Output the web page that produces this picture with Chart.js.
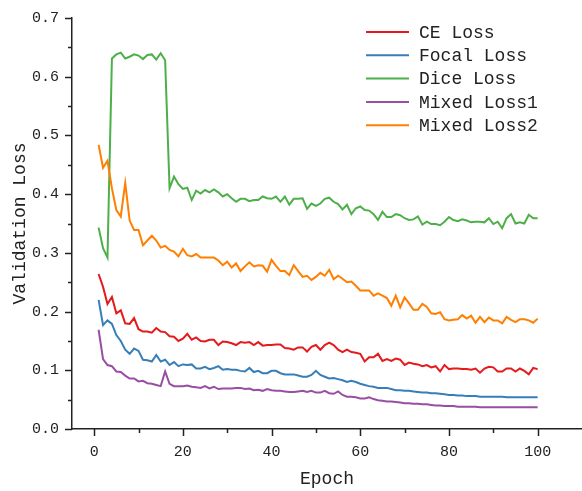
<!DOCTYPE html>
<html>
<head>
<meta charset="utf-8">
<script src="https://cdn.jsdelivr.net/npm/chart.js@4/dist/chart.umd.min.js"></script>
<style>
  html, body { margin: 0; padding: 0; background: #fff; }
  #wrap { width: 582px; height: 491px; }
</style>
</head>
<body>
<div id="wrap"><canvas id="myChart" width="582" height="491"></canvas></div>
<script>
const epochs = Array.from({ length: 100 }, (_, i) => i + 1)

const seriesNames = ['CE Loss', 'Focal Loss', 'Dice Loss', 'Mixed Loss1', 'Mixed Loss2']
const seriesColors = ['#e41a1c', '#377eb8', '#4daf4a', '#984ea3', '#ff7f00']

const ceLoss = [
  0.264, 0.242, 0.213, 0.225, 0.197, 0.202, 0.180, 0.179, 0.189, 0.170,
  0.166, 0.166, 0.164, 0.172, 0.166, 0.165, 0.158, 0.157, 0.150, 0.154,
  0.162, 0.152, 0.156, 0.150, 0.149, 0.152, 0.152, 0.143, 0.149, 0.148,
  0.146, 0.143, 0.148, 0.147, 0.148, 0.143, 0.148, 0.142, 0.143, 0.143,
  0.144, 0.144, 0.138, 0.137, 0.135, 0.139, 0.139, 0.132, 0.140, 0.143,
  0.135, 0.143, 0.147, 0.143, 0.135, 0.131, 0.135, 0.131, 0.130, 0.128,
  0.115, 0.122, 0.122, 0.128, 0.116, 0.119, 0.116, 0.120, 0.118, 0.109,
  0.113, 0.111, 0.110, 0.107, 0.109, 0.105, 0.107, 0.098, 0.109, 0.102,
  0.103, 0.103, 0.102, 0.102, 0.101, 0.103, 0.096, 0.103, 0.106, 0.105,
  0.098, 0.098, 0.103, 0.103, 0.098, 0.103, 0.099, 0.093, 0.104, 0.102
]
const focalLoss = [
  0.220, 0.177, 0.185, 0.179, 0.160, 0.150, 0.135, 0.128, 0.137, 0.133,
  0.118, 0.117, 0.115, 0.126, 0.115, 0.118, 0.109, 0.114, 0.107, 0.110,
  0.109, 0.110, 0.103, 0.103, 0.106, 0.102, 0.104, 0.107, 0.101, 0.102,
  0.101, 0.101, 0.099, 0.098, 0.104, 0.097, 0.099, 0.095, 0.095, 0.099,
  0.099, 0.095, 0.093, 0.093, 0.093, 0.091, 0.089, 0.089, 0.092, 0.099,
  0.092, 0.089, 0.086, 0.087, 0.085, 0.083, 0.080, 0.082, 0.080, 0.077,
  0.075, 0.073, 0.072, 0.070, 0.070, 0.070, 0.068, 0.066, 0.066, 0.065,
  0.065, 0.064, 0.063, 0.062, 0.062, 0.061, 0.061, 0.060, 0.059, 0.058,
  0.058, 0.057, 0.057, 0.056, 0.056, 0.056, 0.055, 0.055, 0.055, 0.055,
  0.055, 0.055, 0.054, 0.054, 0.054, 0.054, 0.054, 0.054, 0.054, 0.054
]
const diceLoss = [
  0.343, 0.308, 0.292, 0.631, 0.638, 0.641, 0.631, 0.634, 0.638, 0.636,
  0.630, 0.637, 0.638, 0.629, 0.640, 0.628, 0.410, 0.430, 0.417, 0.409,
  0.411, 0.390, 0.406, 0.401, 0.407, 0.403, 0.408, 0.403, 0.396, 0.400,
  0.393, 0.387, 0.392, 0.392, 0.388, 0.390, 0.390, 0.396, 0.393, 0.392,
  0.396, 0.387, 0.396, 0.382, 0.392, 0.392, 0.393, 0.375, 0.384, 0.380,
  0.384, 0.392, 0.394, 0.387, 0.383, 0.374, 0.382, 0.366, 0.376, 0.379,
  0.373, 0.372, 0.366, 0.356, 0.370, 0.361, 0.361, 0.366, 0.364, 0.359,
  0.356, 0.357, 0.362, 0.348, 0.353, 0.349, 0.349, 0.347, 0.353, 0.361,
  0.356, 0.354, 0.357, 0.355, 0.352, 0.353, 0.353, 0.352, 0.359, 0.349,
  0.353, 0.342, 0.359, 0.366, 0.350, 0.352, 0.350, 0.365, 0.359, 0.359
]
const mixedLoss1 = [
  0.169, 0.119, 0.109, 0.107, 0.098, 0.097, 0.091, 0.086, 0.086, 0.081,
  0.082, 0.078, 0.077, 0.075, 0.073, 0.098, 0.077, 0.073, 0.073, 0.073,
  0.074, 0.072, 0.071, 0.070, 0.073, 0.069, 0.072, 0.068, 0.069, 0.069,
  0.069, 0.070, 0.070, 0.068, 0.069, 0.066, 0.067, 0.065, 0.068, 0.066,
  0.065, 0.065, 0.064, 0.063, 0.063, 0.064, 0.065, 0.063, 0.065, 0.062,
  0.062, 0.065, 0.061, 0.060, 0.064, 0.058, 0.055, 0.055, 0.054, 0.052,
  0.052, 0.054, 0.051, 0.049, 0.048, 0.047, 0.047, 0.046, 0.045, 0.044,
  0.044, 0.043, 0.043, 0.042, 0.042, 0.041, 0.040, 0.040, 0.039, 0.039,
  0.039, 0.038, 0.038, 0.038, 0.038, 0.038, 0.037, 0.037, 0.037, 0.037,
  0.037, 0.037, 0.037, 0.037, 0.037, 0.037, 0.037, 0.037, 0.037, 0.037
]
const mixedLoss2 = [
  0.484, 0.445, 0.457, 0.410, 0.373, 0.362, 0.419, 0.355, 0.339, 0.339,
  0.313, 0.321, 0.329, 0.321, 0.309, 0.312, 0.305, 0.302, 0.294, 0.307,
  0.296, 0.294, 0.298, 0.292, 0.292, 0.292, 0.292, 0.287, 0.279, 0.285,
  0.275, 0.282, 0.269, 0.277, 0.284, 0.277, 0.279, 0.278, 0.268, 0.288,
  0.278, 0.269, 0.269, 0.262, 0.279, 0.269, 0.259, 0.261, 0.254, 0.259,
  0.266, 0.261, 0.271, 0.255, 0.261, 0.256, 0.250, 0.251, 0.244, 0.236,
  0.236, 0.236, 0.227, 0.231, 0.227, 0.223, 0.210, 0.227, 0.207, 0.224,
  0.214, 0.203, 0.203, 0.213, 0.208, 0.197, 0.196, 0.199, 0.187, 0.185,
  0.186, 0.187, 0.194, 0.188, 0.193, 0.181, 0.191, 0.182, 0.190, 0.185,
  0.185, 0.180, 0.191, 0.186, 0.182, 0.187, 0.187, 0.185, 0.181, 0.188
]
const seriesValues = [ceLoss, focalLoss, diceLoss, mixedLoss1, mixedLoss2]

const xMajorTicks = [0, 20, 40, 60, 80, 100]
const xMinorTicks = [10, 30, 50, 70, 90]
const yMajorTicks = [0, 0.1, 0.2, 0.3, 0.4, 0.5, 0.6, 0.7]
const yMinorTicks = [0.05, 0.15, 0.25, 0.35, 0.45, 0.55, 0.65]

const FONT = "'Liberation Mono', 'DejaVu Sans Mono', monospace"
const TEXT_COLOR = '#222'
const AXIS_COLOR = '#222'

// outward major/minor tick marks, matplotlib style
const tickMarks = {
  id: 'tickMarks',
  afterDraw(chart) {
    const { ctx, scales: { x, y } } = chart
    ctx.save()
    ctx.strokeStyle = AXIS_COLOR
    ctx.lineWidth = 1.5
    ctx.beginPath()
    const xTick = (v, len) => {
      const px = Math.round(x.getPixelForValue(v)) + 0.5
      ctx.moveTo(px, x.top)
      ctx.lineTo(px, x.top + len)
    }
    const yTick = (v, len) => {
      const py = Math.round(y.getPixelForValue(v)) + 0.5
      ctx.moveTo(y.right, py)
      ctx.lineTo(y.right - len, py)
    }
    xMajorTicks.forEach(v => xTick(v, 7))
    xMinorTicks.forEach(v => xTick(v, 4))
    yMajorTicks.forEach(v => yTick(v, 7))
    yMinorTicks.forEach(v => yTick(v, 4))
    ctx.stroke()
    ctx.restore()
  }
}

// legend drawn inside the plot, top right
const innerLegend = {
  id: 'innerLegend',
  afterDraw(chart) {
    const { ctx } = chart
    const left = 366, top = 32, rowH = 23.3, lineLen = 43
    ctx.save()
    ctx.font = '18px ' + FONT
    ctx.textBaseline = 'middle'
    chart.data.datasets.forEach((ds, i) => {
      const yy = top + i * rowH
      ctx.strokeStyle = ds.borderColor
      ctx.lineWidth = 2
      ctx.beginPath()
      ctx.moveTo(left, yy)
      ctx.lineTo(left + lineLen, yy)
      ctx.stroke()
      ctx.fillStyle = TEXT_COLOR
      ctx.fillText(ds.label, left + lineLen + 10, yy + 1)
    })
    ctx.restore()
  }
}

const datasets = seriesNames.map((name, i) => ({
  label: name,
  data: epochs.map((e, j) => ({ x: e, y: seriesValues[i][j] })),
  borderColor: seriesColors[i],
  backgroundColor: seriesColors[i],
  borderWidth: 2,
  pointRadius: 0,
  tension: 0,
  fill: false,
  order: seriesNames.length - i
}))

new Chart(document.getElementById('myChart'), {
  type: 'line',
  data: { datasets },
  options: {
    responsive: false,
    animation: false,
    devicePixelRatio: 1,
    layout: { padding: { top: 18, right: 0, left: 0, bottom: 0 } },
    plugins: {
      legend: { display: false },
      tooltip: { enabled: false }
    },
    scales: {
      x: {
        type: 'linear',
        min: -5,
        max: 110,
        afterFit: (scale) => {
          scale.height = 62
          scale.paddingLeft = 0
          scale.paddingRight = 0
        },
        grid: { display: false, drawTicks: false },
        border: { display: true, color: AXIS_COLOR, width: 1.5 },
        ticks: {
          stepSize: 20,
          includeBounds: false,
          padding: 14,
          maxRotation: 0,
          color: TEXT_COLOR,
          font: { family: FONT, size: 15 },
          callback: (v) => xMajorTicks.includes(v) ? String(v) : ''
        },
        title: {
          display: true,
          text: 'Epoch',
          color: TEXT_COLOR,
          font: { family: FONT, size: 18 },
          padding: { top: 0, bottom: 1 }
        }
      },
      y: {
        min: 0,
        max: 0.7,
        afterFit: (scale) => {
          scale.width = 72
          scale.paddingTop = 0
          scale.paddingBottom = 0
        },
        grid: { display: false, drawTicks: false },
        border: { display: true, color: AXIS_COLOR, width: 1.5 },
        ticks: {
          stepSize: 0.1,
          padding: 13,
          color: TEXT_COLOR,
          font: { family: FONT, size: 15 },
          callback: (v) => Number(v).toFixed(1)
        },
        title: {
          display: true,
          text: 'Validation Loss',
          color: TEXT_COLOR,
          font: { family: FONT, size: 18 },
          padding: { top: 9, bottom: 0 }
        }
      }
    }
  },
  plugins: [tickMarks, innerLegend]
})
</script>
</body>
</html>
